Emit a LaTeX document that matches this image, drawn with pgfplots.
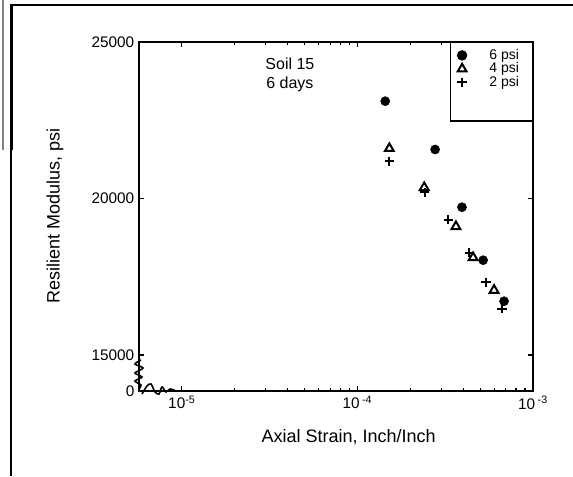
\documentclass[border=0pt]{standalone}
\usepackage{pgfplots}
\pgfplotsset{compat=1.18}
\usepackage{fontspec}
\setmainfont{Liberation Sans}
\begin{document}
\begin{tikzpicture}[x=0.75pt,y=0.75pt]
\useasboundingbox (0,0) rectangle (573,476);
% scanned frame
\draw[line width=2.2pt] (10,471) -- (573,471);
\draw[line width=1.5pt] (11,472) -- (11,0);
\draw[line width=0.8pt] (12,472) -- (12,326);
\draw[gray, line width=0.8pt] (3,476) -- (3,326);
\begin{axis}[
  at={(104.25pt,63.75pt)}, anchor=south west,
  scale only axis, width=295.5pt, height=261.75pt,
  xmode=log, xmin=5.7e-6, xmax=1e-3,
  ymin=13850, ymax=25000,
  scaled y ticks=false,
  axis line style={line width=1.2pt},
  xtick={1e-5,1e-4,1e-3},
  xticklabels={10\textsuperscript{-5},10\,\textsuperscript{-4},10\,\textsuperscript{-3}},
  ytick={13850,15000,20000,25000},
  yticklabels={0,15000,20000,25000},
  major tick length=4pt, minor tick length=2.5pt,
  tick style={black, line width=0.8pt},
  ticklabel style={font=\fontsize{11.5}{13}\selectfont},
  xlabel={Axial Strain, Inch/Inch},
  xlabel style={at={(rel axis cs:0.532,-0.132)}, anchor=center,
    font=\fontsize{13.5}{15}\selectfont},
  legend style={at={(rel axis cs:1,1)}, anchor=north east, draw=black, line width=1pt,
    font=\fontsize{10.5}{12}\selectfont, row sep=-3pt, inner xsep=0pt, inner ysep=3pt,
    /tikz/every odd column/.append style={column sep=15pt}},
  legend cell align=left,
  clip=false,
]
\addplot[only marks, mark=*, mark size=3.4pt, black] coordinates {
  (1.44e-4,23110) (2.77e-4,21566) (3.94e-4,19722) (5.20e-4,18029) (6.84e-4,16719)};
\addlegendentry{6 psi\rule{8pt}{0pt}}
\addplot[only marks, mark=triangle, mark size=3.8pt, black, line width=1.5pt] coordinates {
  (1.52e-4,21600) (2.40e-4,20351) (3.64e-4,19105) (4.56e-4,18115) (6.00e-4,17070)};
\addlegendentry{4 psi\rule{8pt}{0pt}}
\addplot[only marks, mark=+, mark size=3.5pt, black, line width=1.5pt] coordinates {
  (1.52e-4,21192) (2.42e-4,20192) (3.29e-4,19329) (4.33e-4,18275) (5.39e-4,17326) (6.67e-4,16485)};
\addlegendentry{2 psi\rule{8pt}{0pt}}
\addlegendimage{empty legend}\addlegendentry{\rule{0pt}{17pt}}
\node[align=center, font=\fontsize{12}{14.5}\selectfont] at (rel axis cs:0.383,0.905) {Soil 15\\6 days};
\end{axis}
% y axis label
\node[rotate=90, font=\fontsize{13.5}{15}\selectfont] at (55,260) {Resilient Modulus, psi};
% axis break squiggles
\draw[line width=1.2pt] plot[smooth] coordinates {(141,116) (135,112) (143,108) (135,103) (142,99) (135,95) (141,91) (139,87)};
\draw[line width=1.2pt] plot[smooth] coordinates {(142,82) (147,90) (151,92) (155,84) (159,82) (162,89) (166,84) (170,87) (176,85)};
\end{tikzpicture}
\end{document}
